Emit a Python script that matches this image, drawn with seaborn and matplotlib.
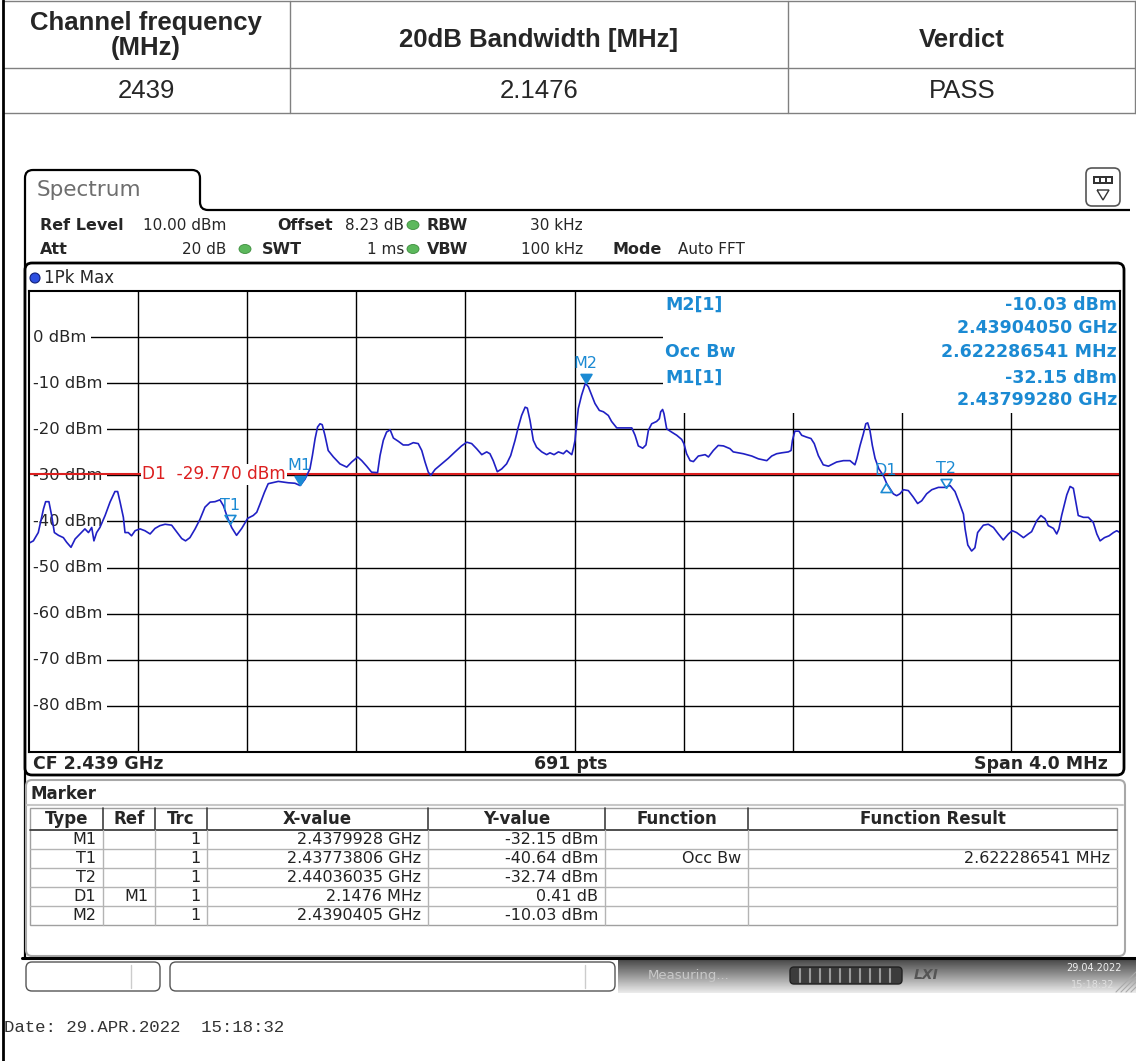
import numpy as np
import pandas as pd
import matplotlib
matplotlib.use("Agg")
import matplotlib.pyplot as plt
import seaborn as sns
from matplotlib.patches import FancyBboxPatch, Rectangle, Ellipse, PathPatch
from matplotlib.path import Path

# ---- trace (MHz, dBm) ----
freq_mhz = [
    2437.000, 2437.016, 2437.034, 2437.053, 2437.061, 2437.073, 2437.083, 2437.093,
    2437.108, 2437.126, 2437.138, 2437.154, 2437.169, 2437.187, 2437.205, 2437.218,
    2437.230, 2437.238, 2437.248, 2437.260, 2437.279, 2437.297, 2437.315, 2437.325,
    2437.334, 2437.346, 2437.352, 2437.364, 2437.376, 2437.389, 2437.407, 2437.425,
    2437.444, 2437.462, 2437.480, 2437.499, 2437.523, 2437.541, 2437.560, 2437.574,
    2437.590, 2437.609, 2437.627, 2437.645, 2437.664, 2437.682, 2437.700, 2437.713,
    2437.725, 2437.743, 2437.761, 2437.780, 2437.802, 2437.822, 2437.835, 2437.847,
    2437.863, 2437.877, 2437.914, 2437.951, 2437.975, 2437.994, 2438.012, 2438.030,
    2438.039, 2438.049, 2438.058, 2438.067, 2438.075, 2438.085, 2438.097, 2438.116,
    2438.140, 2438.165, 2438.183, 2438.205, 2438.220, 2438.238, 2438.256, 2438.278,
    2438.287, 2438.299, 2438.311, 2438.324, 2438.336, 2438.354, 2438.372, 2438.391,
    2438.409, 2438.427, 2438.440, 2438.452, 2438.464, 2438.473, 2438.489, 2438.513,
    2438.537, 2438.562, 2438.586, 2438.605, 2438.623, 2438.641, 2438.660, 2438.678,
    2438.690, 2438.702, 2438.717, 2438.733, 2438.751, 2438.766, 2438.782, 2438.794,
    2438.806, 2438.819, 2438.827, 2438.837, 2438.849, 2438.861, 2438.880, 2438.898,
    2438.910, 2438.925, 2438.941, 2438.959, 2438.971, 2438.990, 2438.996, 2439.002,
    2439.006, 2439.014, 2439.026, 2439.040, 2439.051, 2439.063, 2439.075, 2439.091,
    2439.106, 2439.124, 2439.136, 2439.155, 2439.179, 2439.210, 2439.222, 2439.234,
    2439.250, 2439.262, 2439.271, 2439.283, 2439.301, 2439.311, 2439.316, 2439.323,
    2439.328, 2439.338, 2439.356, 2439.375, 2439.393, 2439.401, 2439.411, 2439.424,
    2439.436, 2439.454, 2439.479, 2439.491, 2439.509, 2439.527, 2439.546, 2439.570,
    2439.582, 2439.619, 2439.650, 2439.674, 2439.705, 2439.723, 2439.741, 2439.760,
    2439.784, 2439.794, 2439.799, 2439.808, 2439.823, 2439.833, 2439.851, 2439.867,
    2439.879, 2439.894, 2439.912, 2439.931, 2439.961, 2439.986, 2440.010, 2440.028,
    2440.035, 2440.047, 2440.059, 2440.068, 2440.075, 2440.083, 2440.092, 2440.102,
    2440.116, 2440.132, 2440.145, 2440.157, 2440.169, 2440.181, 2440.193, 2440.206,
    2440.224, 2440.242, 2440.258, 2440.273, 2440.291, 2440.310, 2440.334, 2440.358,
    2440.377, 2440.395, 2440.410, 2440.426, 2440.432, 2440.442, 2440.456, 2440.468,
    2440.478, 2440.499, 2440.517, 2440.536, 2440.554, 2440.572, 2440.591, 2440.605,
    2440.621, 2440.646, 2440.664, 2440.676, 2440.695, 2440.710, 2440.725, 2440.737,
    2440.756, 2440.768, 2440.776, 2440.786, 2440.805, 2440.817, 2440.829, 2440.838,
    2440.847, 2440.866, 2440.884, 2440.902, 2440.915, 2440.927, 2440.943, 2440.960,
    2440.976, 2440.988, 2441.000,
]
level_dbm = [
    -44.7, -44.2, -42.4, -37.3, -35.7, -35.7, -38.7, -42.4,
    -43.0, -43.5, -44.5, -45.6, -43.8, -42.7, -41.6, -42.4,
    -41.3, -44.2, -42.4, -41.3, -38.7, -35.8, -33.5, -33.5,
    -35.8, -39.1, -42.4, -42.4, -43.1, -42.0, -41.6, -42.0,
    -42.7, -41.5, -40.9, -40.6, -40.8, -42.2, -43.7, -44.2,
    -43.5, -41.6, -39.5, -36.9, -35.8, -35.7, -35.3, -36.6,
    -38.7, -41.3, -43.0, -41.5, -39.3, -38.7, -38.0, -36.2,
    -33.7, -31.8, -31.3, -31.6, -31.7, -32.2, -30.8, -28.6,
    -25.7, -22.0, -19.5, -18.8, -19.0, -21.3, -24.6, -26.0,
    -27.5, -28.2, -27.1, -26.0, -26.8, -28.0, -29.3, -29.4,
    -25.7, -22.4, -20.6, -20.1, -21.9, -22.6, -23.4, -23.4,
    -22.9, -23.1, -24.6, -27.1, -29.3, -30.0, -28.7, -27.5,
    -26.3, -24.9, -23.6, -22.8, -23.1, -24.2, -25.5, -24.9,
    -25.3, -26.8, -29.2, -28.6, -27.5, -25.7, -22.4, -19.5,
    -17.0, -15.2, -15.4, -18.1, -22.4, -23.9, -24.9, -25.5,
    -25.1, -25.5, -24.9, -25.3, -24.6, -25.5, -24.1, -22.4,
    -19.9, -15.5, -12.6, -10.0, -10.8, -12.6, -14.4, -15.9,
    -16.2, -17.0, -18.3, -19.7, -19.7, -19.7, -21.3, -23.6,
    -24.1, -23.4, -20.2, -18.8, -18.3, -17.7, -16.2, -15.7,
    -16.6, -19.9, -20.6, -21.3, -22.2, -23.1, -25.3, -26.8,
    -27.0, -25.8, -25.5, -26.0, -24.6, -23.5, -23.6, -24.2,
    -24.9, -25.3, -25.8, -26.4, -26.8, -25.8, -25.3, -25.1,
    -24.9, -24.6, -22.4, -20.4, -20.4, -21.3, -21.7, -22.0,
    -23.1, -25.7, -27.7, -28.0, -27.1, -26.8, -26.8, -27.7,
    -26.4, -23.5, -21.0, -18.8, -18.6, -20.2, -23.5, -26.3,
    -28.6, -30.0, -31.8, -32.9, -34.0, -34.4, -34.0, -33.1,
    -33.3, -34.7, -36.1, -35.5, -34.0, -33.1, -32.6, -32.6,
    -32.2, -33.5, -35.8, -38.4, -41.6, -45.1, -46.4, -45.7,
    -42.4, -40.8, -40.6, -41.3, -42.7, -44.0, -42.7, -42.0,
    -42.4, -43.5, -42.7, -42.2, -39.8, -38.7, -39.4, -40.9,
    -41.5, -42.7, -41.6, -38.7, -34.2, -32.4, -32.8, -35.8,
    -38.7, -39.1, -39.1, -40.2, -42.7, -44.2, -43.5, -43.1,
    -42.4, -42.0, -42.4,
]

center_mhz = 2439.0
span_mhz = 4.0
ref_level = 10.0
n_div_y = 10
d1_line_dbm = -29.77
y_ticks = [0, -10, -20, -30, -40, -50, -60, -70, -80]

# markers
mk_name = ["M1", "T1", "T2", "D1", "M2"]
mk_freq = [2437.9928, 2437.73806, 2440.36035, 2440.1404, 2439.0405]
mk_level = [-32.15, -40.64, -32.74, -31.74, -10.03]
mk_filled = [True, False, False, False, True]
mk_up = [False, False, False, True, False]

# marker table
tbl_cols = ["Type", "Ref", "Trc", "X-value", "Y-value", "Function", "Function Result"]
tbl_type = ["M1", "T1", "T2", "D1", "M2"]
tbl_ref = ["", "", "", "M1", ""]
tbl_trc = ["1", "1", "1", "1", "1"]
tbl_x = ["2.4379928 GHz", "2.43773806 GHz", "2.44036035 GHz", "2.1476 MHz", "2.4390405 GHz"]
tbl_y = ["-32.15 dBm", "-40.64 dBm", "-32.74 dBm", "0.41 dB", "-10.03 dBm"]
tbl_func = ["", "Occ Bw", "", "", ""]
tbl_res = ["", "2.622286541 MHz", "", "", ""]

# result table above the screenshot
res_head = [["Channel frequency", "(MHz)"], ["20dB Bandwidth [MHz]"], ["Verdict"]]
res_vals = ["2439", "2.1476", "PASS"]

# marker info block
info_left = ["M2[1]", "", "Occ Bw", "M1[1]", ""]
info_right = ["-10.03 dBm", "2.43904050 GHz", "2.622286541 MHz", "-32.15 dBm", "2.43799280 GHz"]

sns.set_theme(style="white")
plt.rcParams['font.family'] = ['DejaVu Sans']

W, H = 1136, 1061
fig = plt.figure(figsize=(W / 100, H / 100), dpi=100)
bg = fig.add_axes([0, 0, 1, 1], zorder=0)
bg.axis("off")

BLUE_TXT = "#1b8ad3"
TRACE = "#2020c4"
RED = "#dc2020"

# --- result table ---
for yy in [1, 68, 113]:
    bg.plot([3, W], [yy, yy], color="#808080", lw=1)
for xx in [290, 788, 1135]:
    bg.plot([xx, xx], [1, 113], color="#808080", lw=1)
bg.plot([2.5, 2.5], [0, H], color="black", lw=2)
for c, h, v in zip([146, 539, 962], res_head, res_vals):
    ys = [23, 48] if len(h) == 2 else [40]
    for yy, line in zip(ys, h):
        bg.text(c, yy, line, ha="center", va="center", fontsize=18.5,
                fontweight="bold", family="Liberation Sans")
    bg.text(c, 91, v, ha="center", va="center", fontsize=18.5, family="Liberation Sans")

# --- spectrum tab + panel outline ---
verts = [(25, 958), (25, 178), (25, 170), (33, 170), (192, 170), (200, 170), (200, 178),
         (200, 202), (200, 210), (208, 210), (1130, 210)]
codes = [Path.MOVETO, Path.LINETO, Path.CURVE3, Path.CURVE3, Path.LINETO, Path.CURVE3,
         Path.CURVE3, Path.LINETO, Path.CURVE3, Path.CURVE3, Path.LINETO]
bg.add_patch(PathPatch(Path(verts, codes), fc="none", ec="black", lw=1.6))
bg.text(37, 190, "Spectrum", fontsize=15.5, color="#6e6e6e", va="center")

# icon at top right
bg.add_patch(FancyBboxPatch((1086, 168), 34, 38, boxstyle="round,pad=0,rounding_size=6",
                            fc="white", ec="#555555", lw=1.2))
bg.add_patch(Rectangle((1093, 176), 20, 8, fc="#333333", ec="none"))
for sx in [1095, 1101, 1107]:
    bg.add_patch(Rectangle((sx, 178), 4, 4, fc="white", ec="none"))
bg.add_patch(PathPatch(Path([(1097, 190), (1109, 190), (1103, 200), (1097, 190)]),
                       fc="none", ec="#333333", lw=1))

# settings lines: (text, x, bold, align)
row1 = [("Ref Level", 40, True, "left"), ("10.00 dBm", 226, False, "right"),
        ("Offset", 277, True, "left"), ("8.23 dB", 404, False, "right"),
        ("RBW", 427, True, "left"), ("30 kHz", 583, False, "right")]
row2 = [("Att", 40, True, "left"), ("20 dB", 226, False, "right"),
        ("SWT", 262, True, "left"), ("1 ms", 404, False, "right"),
        ("VBW", 427, True, "left"), ("100 kHz", 583, False, "right"),
        ("Mode", 612, True, "left"), ("Auto FFT", 678, False, "left")]
for yy, row in [(225, row1), (249, row2)]:
    for s, xx, b, al in row:
        bg.text(xx, yy, s, fontsize=11.5 if b else 11, fontweight="bold" if b else "normal",
                va="center", ha=al)
for xx, yy in [(413, 225), (245, 249), (413, 249)]:
    bg.add_patch(Ellipse((xx, yy), 12, 9, fc="#5cb85c", ec="#3c8c3c", lw=0.6))

# trace box
bg.add_patch(FancyBboxPatch((25, 263), 1099, 512, boxstyle="round,pad=0,rounding_size=7",
                            fc="white", ec="black", lw=2))
bg.add_patch(Ellipse((35, 278), 10, 10, fc="#2d4fe0", ec="#10207a", lw=0.8))
bg.text(44, 278, "1Pk Max", fontsize=12, va="center")

bg.text(33, 764, "CF 2.439 GHz", fontsize=12.5, fontweight="bold", va="center")
bg.text(571, 764, "691 pts", fontsize=12.5, fontweight="bold", va="center", ha="center")
bg.text(1108, 764, "Span 4.0 MHz", fontsize=12.5, fontweight="bold", va="center", ha="right")

# --- marker table panel ---
bg.add_patch(FancyBboxPatch((26, 780), 1099, 176, boxstyle="round,pad=0,rounding_size=6",
                            fc="white", ec="#a8a8a8", lw=1.5))
bg.text(30, 794, "Marker", fontsize=12, fontweight="bold", va="center")
bg.plot([27, 1123], [805, 805], color="#c8c8c8", lw=1.5)
col_x = [30, 103, 155, 207, 428, 605, 748, 1117]
row_y = [808, 830, 849, 868, 887, 906, 925]
bg.add_patch(Rectangle((30, 808), 1087, 117, fc="white", ec="#a0a0a0", lw=1))
for yy in row_y[2:-1]:
    bg.plot([30, 1117], [yy, yy], color="#b4b4b4", lw=1)
bg.plot([30, 1117], [830, 830], color="#404040", lw=1.3)
for xx in col_x[1:-1]:
    bg.plot([xx, xx], [808, 830], color="#404040", lw=1.2)
    bg.plot([xx, xx], [830, 925], color="#b4b4b4", lw=1)
for i, name in enumerate(tbl_cols):
    bg.text((col_x[i] + col_x[i + 1]) / 2, 819, name, fontsize=12, fontweight="bold",
            ha="center", va="center")
cols_data = [tbl_type, tbl_ref, tbl_trc, tbl_x, tbl_y, tbl_func, tbl_res]
for i, col in enumerate(cols_data):
    for j, s in enumerate(col):
        bg.text(col_x[i + 1] - 7, (row_y[j + 1] + row_y[j + 2]) / 2, s, fontsize=11.5,
                ha="right", va="center", color="#222222")
bg.plot([22, W], [958, 958], color="black", lw=2.2)

# --- status bar ---
bg.add_patch(FancyBboxPatch((26, 962), 134, 29, boxstyle="round,pad=0,rounding_size=6",
                            fc="white", ec="#555555", lw=1))
bg.plot([131, 131], [965, 988], color="#cccccc", lw=1)
bg.add_patch(FancyBboxPatch((170, 962), 445, 29, boxstyle="round,pad=0,rounding_size=6",
                            fc="white", ec="#555555", lw=1))
bg.plot([585, 585], [965, 988], color="#cccccc", lw=1)
grad = np.linspace(0.28, 0.92, 40)[:, None] * np.ones((1, 10))
bg.imshow(grad, extent=[618, W, 993, 959], aspect="auto", cmap="gray", vmin=0, vmax=1,
          zorder=1)
bg.text(648, 976, "Measuring...", fontsize=9.5, color="#c8c8c8", va="center", zorder=2)
bg.add_patch(FancyBboxPatch((790, 967), 112, 17, boxstyle="round,pad=0,rounding_size=4",
                            fc="#3c3c3c", ec="#222222", lw=1, zorder=2))
for sx in range(800, 896, 10):
    bg.plot([sx, sx], [969, 982], color="#9a9a9a", lw=1.5, zorder=3)
bg.text(914, 975, "LXI", fontsize=10, fontweight="bold", style="italic", color="#555555",
        va="center", zorder=2)
bg.text(1122, 968, "29.04.2022", fontsize=7, color="#eeeeee", va="center", ha="right", zorder=2)
bg.text(1114, 985, "15:18:32", fontsize=7, color="#e0e0e0", va="center", ha="right", zorder=2)
for k in range(4):
    bg.plot([1116 + 5 * k, 1136], [992, 992 - (20 - 5 * k)], color="#aaaaaa", lw=0.8, zorder=2)

bg.text(4, 1027, "Date: 29.APR.2022  15:18:32", fontsize=12.5, family="Liberation Mono",
        color="#333333", va="center")

bg.set_xlim(0, W)
bg.set_ylim(H, 0)

# --- trace axes ---
ax = fig.add_axes([29 / W, 1 - 752 / H, 1091 / W, 461 / H], zorder=1)
ax.patch.set_visible(False)
f_lo, f_hi = center_mhz - span_mhz / 2, center_mhz + span_mhz / 2
y_lo = ref_level - 10 * n_div_y
for gx in np.linspace(f_lo, f_hi, 11)[1:-1]:
    ax.axvline(gx, color="black", lw=1, zorder=1)
for gy in y_ticks:
    ax.axhline(gy, color="black", lw=1, zorder=1)
# marker info area hides part of the grid
ax.add_patch(Rectangle((0.5811, 0.7354), 0.42, 0.27, transform=ax.transAxes,
                       fc="white", ec="none", zorder=2))
for gy in y_ticks:
    ax.text(0.004, gy, f"{gy} dBm", transform=ax.get_yaxis_transform(), fontsize=11.8,
            va="center", ha="left", zorder=3,
            bbox=dict(fc="white", ec="none", pad=3))

ax.axhline(d1_line_dbm, color=RED, lw=1.5, zorder=4)
ax.text(0.1036, d1_line_dbm, "D1  -29.770 dBm", transform=ax.get_yaxis_transform(),
        color=RED, fontsize=12.2, va="center", ha="left", zorder=4.5,
        bbox=dict(fc="white", ec="none", pad=1))

df = pd.DataFrame({"freq": freq_mhz, "level": level_dbm})
sns.lineplot(data=df, x="freq", y="level", estimator=None, sort=False, color=TRACE,
             lw=1.2, ax=ax, zorder=5)

down_tri = Path([(0, 0), (-0.6, 1.0), (0.6, 1.0), (0, 0)])
up_tri = Path([(0, 0), (-0.6, -1.0), (0.6, -1.0), (0, 0)])
for name, fx, lv, filled, up in zip(mk_name, mk_freq, mk_level, mk_filled, mk_up):
    ax.plot([fx], [lv], ls="none", marker=up_tri if up else down_tri, ms=13,
            mfc=BLUE_TXT if filled else "none", mec=BLUE_TXT, mew=1.2, zorder=6)
    ax.annotate(name, (fx, lv), xytext=(0, 9 if up else 14), textcoords="offset points",
                ha="center", va="center", color=BLUE_TXT, fontsize=11.5, zorder=6)

for k, (l, r) in enumerate(zip(info_left, info_right)):
    yy = [305, 328, 352, 378, 400][k]
    if l:
        ax.text(665, yy, l, transform=bg.transData, color=BLUE_TXT, fontsize=12.5,
                fontweight="bold", va="center", zorder=8)
    ax.text(1117, yy, r, transform=bg.transData, color=BLUE_TXT, fontsize=12.5,
            fontweight="bold", va="center", ha="right", zorder=8)

ax.set_xlim(f_lo, f_hi)
ax.set_ylim(y_lo, ref_level)
ax.set_xticks([])
ax.set_yticks([])
ax.set_xlabel("")
ax.set_ylabel("")
for sp in ax.spines.values():
    sp.set_color("black")
    sp.set_linewidth(1.5)
    sp.set_visible(True)
    sp.set_zorder(10)

fig.savefig("out.png", dpi=100)
